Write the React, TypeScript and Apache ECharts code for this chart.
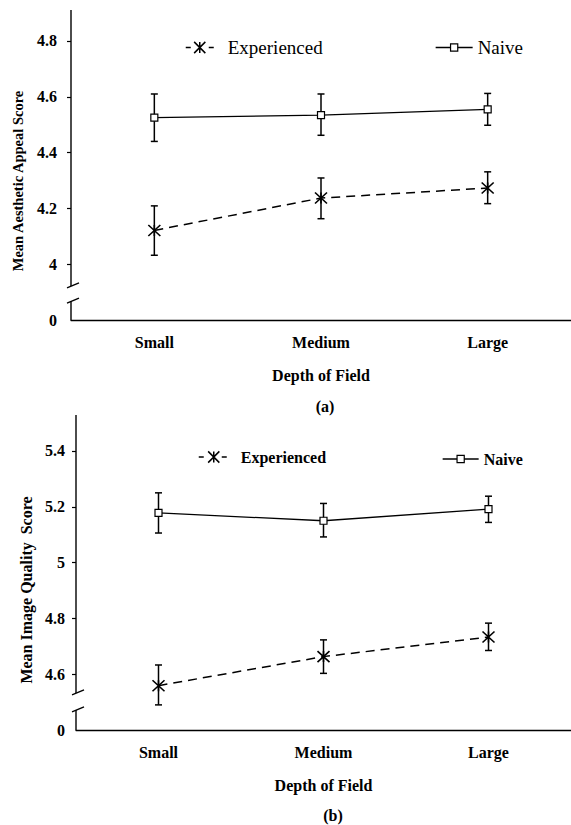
import React, { useEffect, useRef } from 'react';
import * as echarts from 'echarts';

const SERIF = '"Liberation Serif", "Times New Roman", serif';

const categories = ['Small', 'Medium', 'Large'];
const seriesNames = ['Experienced', 'Naive'];

// Panel (a) – Mean Aesthetic Appeal Score
const expMeanA = [4.121, 4.237, 4.273];
const expLowA = [4.032, 4.163, 4.217];
const expHighA = [4.209, 4.309, 4.331];
const naiveMeanA = [4.525, 4.534, 4.555];
const naiveLowA = [4.44, 4.462, 4.498];
const naiveHighA = [4.61, 4.61, 4.612];
const yTickValuesA = [3.8, 4.0, 4.2, 4.4, 4.6, 4.8];
const yTickLabelsA = ['0', '4', '4.2', '4.4', '4.6', '4.8'];

// Panel (b) – Mean Image Quality Score
const expMeanB = [4.559, 4.663, 4.733];
const expLowB = [4.49, 4.603, 4.685];
const expHighB = [4.633, 4.723, 4.783];
const naiveMeanB = [5.178, 5.15, 5.192];
const naiveLowB = [5.106, 5.092, 5.144];
const naiveHighB = [5.25, 5.212, 5.238];
const yTickValuesB = [4.4, 4.6, 4.8, 5.0, 5.2, 5.4];
const yTickLabelsB = ['0', '4.6', '4.8', '5', '5.2', '5.4'];

const STAR = 'path://M0,0 L12,11 M12,0 L0,11 M6,0 L6,11';

function labelFor(v: number, vals: number[], labels: string[]) {
  const i = vals.findIndex((t) => Math.abs(t - v) < 1e-6);
  return i >= 0 ? labels[i] : '';
}

function errorSeries(idx: number, low: number[], high: number[]) {
  return {
    type: 'custom',
    xAxisIndex: idx,
    yAxisIndex: idx,
    silent: true,
    z: 2,
    clip: false,
    data: low.map((l, i) => [i, l, high[i]]),
    encode: { x: 0, y: [1, 2] },
    renderItem: (params: any, api: any) => {
      const lo = api.coord([api.value(0), api.value(1)]);
      const hi = api.coord([api.value(0), api.value(2)]);
      const w = 3.5;
      const st = { stroke: '#000', lineWidth: 1.5 };
      return {
        type: 'group',
        children: [
          { type: 'line', shape: { x1: lo[0], y1: lo[1], x2: hi[0], y2: hi[1] }, style: st },
          { type: 'line', shape: { x1: lo[0] - w, y1: lo[1], x2: lo[0] + w, y2: lo[1] }, style: st },
          { type: 'line', shape: { x1: hi[0] - w, y1: hi[1], x2: hi[0] + w, y2: hi[1] }, style: st },
        ],
      };
    },
  };
}

function axisBreakSeries(idx: number, breakLo: number, breakHi: number) {
  return {
    type: 'custom',
    xAxisIndex: idx,
    yAxisIndex: idx,
    silent: true,
    z: 5,
    clip: false,
    data: [[0, breakLo, breakHi]],
    renderItem: (params: any, api: any) => {
      const cs = params.coordSys;
      const x = cs.x;
      const yLo = api.coord([0, api.value(1)])[1];
      const yHi = api.coord([0, api.value(2)])[1];
      const st = { stroke: '#000', lineWidth: 1.4 };
      return {
        type: 'group',
        children: [
          { type: 'line', shape: { x1: x, y1: cs.y, x2: x, y2: yHi }, style: st },
          { type: 'line', shape: { x1: x, y1: yLo, x2: x, y2: cs.y + cs.height }, style: st },
          { type: 'line', shape: { x1: x - 4, y1: yHi + 2, x2: x + 8, y2: yHi - 3 }, style: st },
          { type: 'line', shape: { x1: x - 4, y1: yLo + 2, x2: x + 8, y2: yLo - 3 }, style: st },
        ],
      };
    },
  };
}

function lineSeries(idx: number, kind: number, data: number[]) {
  const isExp = kind === 0;
  return {
    name: seriesNames[kind],
    type: 'line',
    xAxisIndex: idx,
    yAxisIndex: idx,
    data,
    z: 3,
    symbol: isExp ? STAR : 'rect',
    symbolSize: isExp ? [12, 11] : 7,
    lineStyle: { color: '#000', width: isExp ? 1.5 : 1.3, type: isExp ? [9, 6] : 'solid' },
    itemStyle: isExp
      ? { color: '#000', borderColor: '#000', borderWidth: 1.5 }
      : { color: '#fff', borderColor: '#000', borderWidth: 1.2 },
  };
}

function xAxis(idx: number) {
  return {
    type: 'category',
    gridIndex: idx,
    data: categories,
    boundaryGap: true,
    axisLine: { lineStyle: { color: '#000', width: 1.4 } },
    axisTick: { inside: true, alignWithLabel: true, length: 4, lineStyle: { color: '#000', width: 1.2 } },
    axisLabel: { fontFamily: SERIF, fontWeight: 'bold', fontSize: 16, color: '#000', margin: 14 },
    name: 'Depth of Field',
    nameLocation: 'middle',
    nameGap: 47,
    nameTextStyle: { fontFamily: SERIF, fontWeight: 'bold', fontSize: 16, color: '#000' },
  };
}

function yAxis(idx: number, min: number, max: number, vals: number[], labels: string[], margin: number) {
  return {
    type: 'value',
    gridIndex: idx,
    min,
    max,
    axisLine: { show: false },
    splitLine: { show: false },
    axisTick: { show: true, length: 4, customValues: vals.slice(1), lineStyle: { color: '#000', width: 1.2 } },
    axisLabel: {
      customValues: vals,
      formatter: (v: number) => labelFor(v, vals, labels),
      fontFamily: SERIF,
      fontWeight: 'bold',
      fontSize: 16,
      color: '#000',
      margin,
    },
  };
}

function legendItem(name: string, left: number, top: number, bold: boolean, isExp: boolean, width: number, gap: number, size: number) {
  return {
    data: [name],
    left,
    top,
    padding: 0,
    selectedMode: false,
    itemWidth: width,
    itemHeight: isExp ? 14 : 9,
    textStyle: {
      fontFamily: SERIF,
      fontSize: size,
      fontWeight: bold ? 'bold' : 'normal',
      color: '#000',
      padding: [0, 0, 0, gap],
    },
    lineStyle: isExp ? { type: [5, 18], width: 1.5, color: '#000' } : { type: 'solid', width: 1.3, color: '#000' },
    itemStyle: isExp
      ? { color: '#000', borderColor: '#000', borderWidth: 1.5 }
      : { color: '#fff', borderColor: '#000', borderWidth: 1.2 },
  };
}

export default function App() {
  const ref = useRef<HTMLDivElement>(null);
  useEffect(() => {
    if (!ref.current) return;
    const chart = echarts.init(ref.current, undefined, { renderer: 'svg' });
    const option: any = {
      animation: false,
      backgroundColor: '#fff',
      grid: [
        { left: 71, top: 10, width: 504, height: 310 },
        { left: 76, top: 415, width: 504, height: 315 },
      ],
      xAxis: [xAxis(0), xAxis(1)],
      yAxis: [
        yAxis(0, 3.8, 4.911, yTickValuesA, yTickLabelsA, 14),
        yAxis(1, 4.4, 5.529, yTickValuesB, yTickLabelsB, 11),
      ],
      legend: [
        legendItem('Experienced', 185, 38, false, true, 28, 9, 19),
        legendItem('Naive', 435, 38, false, false, 37, 0, 19),
        legendItem('Experienced', 198, 449, true, true, 30, 7, 16),
        legendItem('Naive', 442, 451, true, false, 36, 0, 16),
      ],
      graphic: [
        {
          type: 'text', x: 18, y: 181, rotation: Math.PI / 2,
          style: { text: 'Mean Aesthetic Appeal Score', font: `bold 14.5px ${SERIF}`, fill: '#000', align: 'center', verticalAlign: 'middle' },
        },
        {
          type: 'text', x: 26, y: 590, rotation: Math.PI / 2,
          style: { text: 'Mean Image Quality  Score', font: `bold 16px ${SERIF}`, fill: '#000', align: 'center', verticalAlign: 'middle' },
        },
        {
          type: 'text', x: 325, y: 406,
          style: { text: '(a)', font: `bold 16px ${SERIF}`, fill: '#000', align: 'center', verticalAlign: 'middle' },
        },
        {
          type: 'text', x: 333, y: 815,
          style: { text: '(b)', font: `bold 16px ${SERIF}`, fill: '#000', align: 'center', verticalAlign: 'middle' },
        },
      ],
      series: [
        axisBreakSeries(0, 3.868, 3.922),
        axisBreakSeries(1, 4.472, 4.533),
        errorSeries(0, expLowA, expHighA),
        errorSeries(0, naiveLowA, naiveHighA),
        errorSeries(1, expLowB, expHighB),
        errorSeries(1, naiveLowB, naiveHighB),
        lineSeries(0, 0, expMeanA),
        lineSeries(0, 1, naiveMeanA),
        lineSeries(1, 0, expMeanB),
        lineSeries(1, 1, naiveMeanB),
      ],
    };
    chart.setOption(option);
    return () => chart.dispose();
  }, []);
  return <div ref={ref} style={{ position: 'fixed', left: 0, top: 0, width: 571, height: 825 }} />;
}
